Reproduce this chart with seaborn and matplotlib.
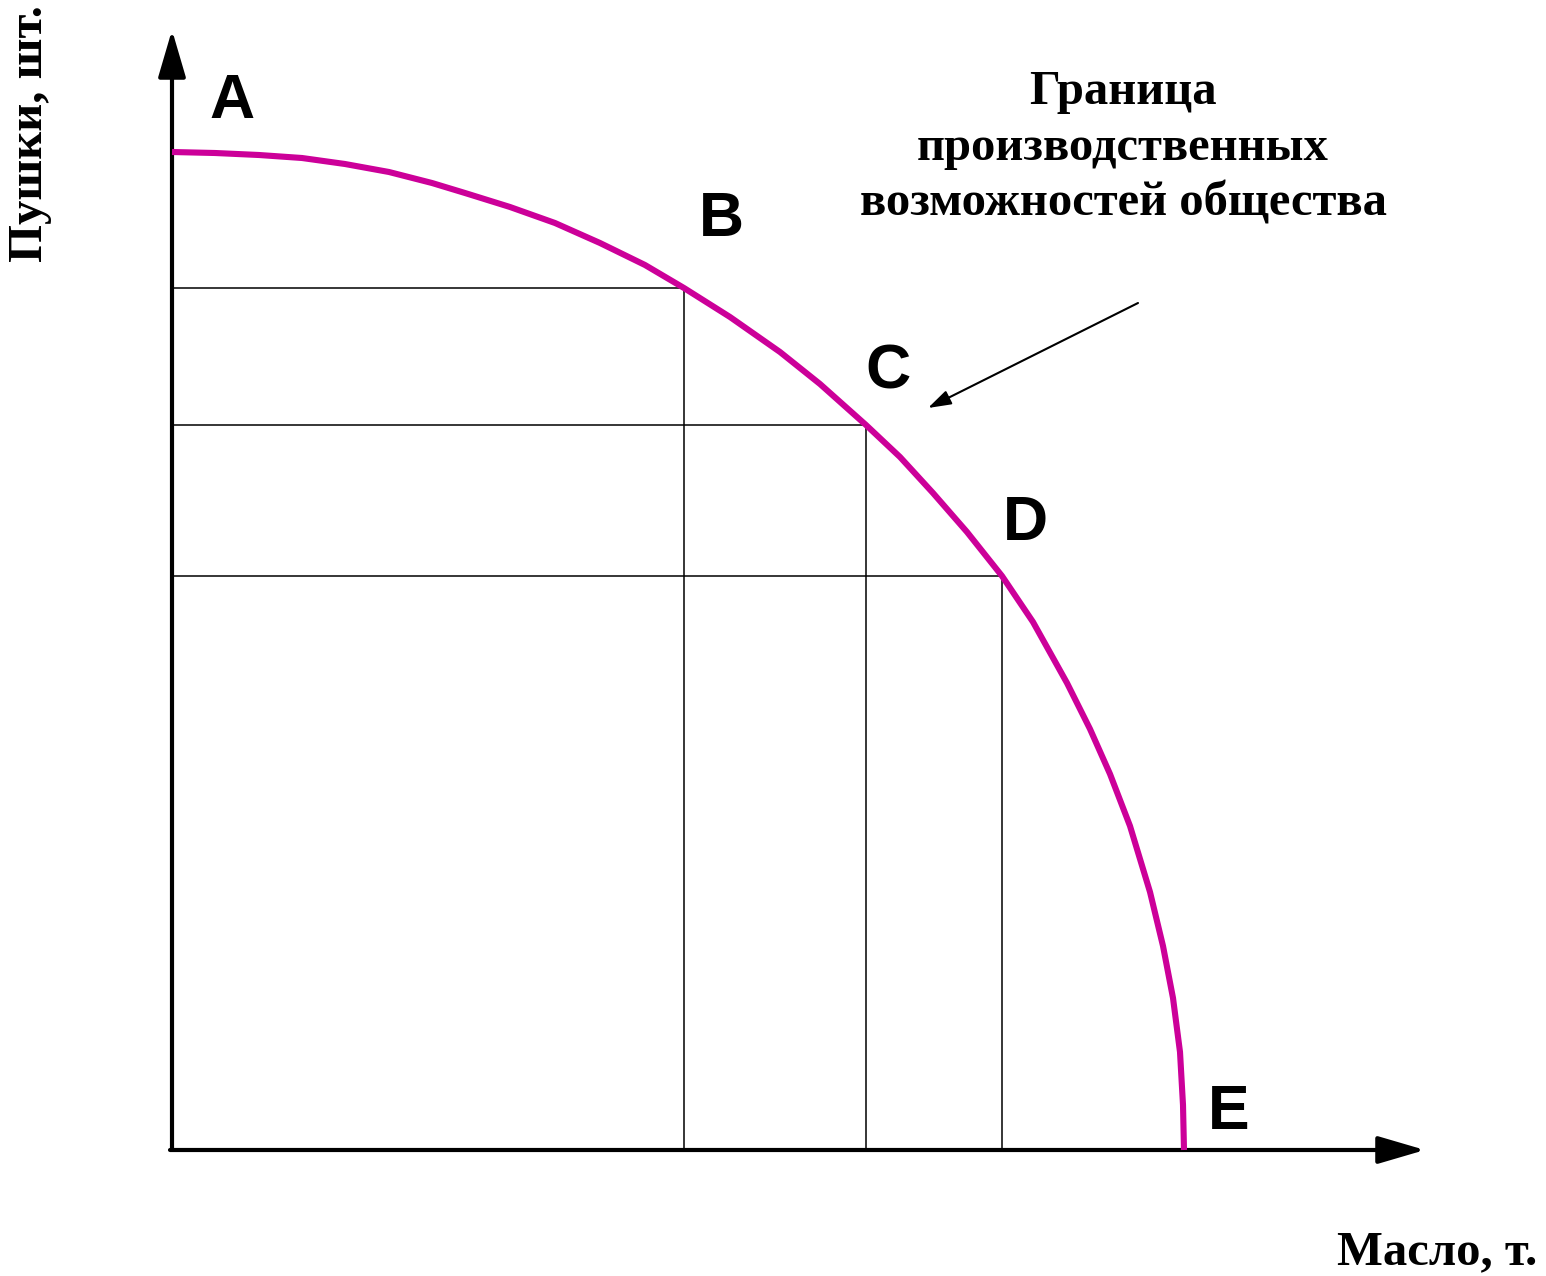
import pandas as pd
import seaborn as sns
import matplotlib.pyplot as plt

# Production possibilities frontier, butter vs guns
butter = [0, 4.3, 8.7, 13.0, 17.3, 21.7, 26.0, 29.3, 33.8, 38.3, 42.8, 47.3,
          51.2, 55.8, 60.8, 64.8, 69.4, 72.8, 76.1, 79.5, 83.0, 86.1, 89.5,
          91.8, 93.8, 95.8, 97.8, 99.1, 100.1, 100.8, 101.1, 101.2]
guns = [99.8, 99.7, 99.5, 99.2, 98.6, 97.8, 96.7, 95.7, 94.3, 92.7, 90.7, 88.5,
        86.2, 83.3, 79.8, 76.6, 72.5, 69.3, 65.7, 61.8, 57.4, 52.8, 46.7,
        42.1, 37.6, 32.4, 25.8, 20.4, 15.2, 9.8, 4.5, 0]

# Labelled points on the frontier
point_names = ['A', 'B', 'C', 'D', 'E']
point_butter = [0, 51.2, 69.4, 83.0, 101.2]
point_guns = [99.8, 86.2, 72.5, 57.4, 0]

# label offsets (points) from each labelled point
label_offsets = [(43, 36), (27, 49), (16, 38), (17, 38), (32, 27)]

frontier_text = 'Граница\nпроизводственных\nвозможностей общества'
x_label = 'Масло, т.'
y_label = 'Пушки, шт.'

curve_color = '#cc0099'
serif = ['Liberation Serif', 'DejaVu Serif']

sns.set_style('white')
plt.rcParams['font.family'] = ['Liberation Sans', 'DejaVu Sans']

df = pd.DataFrame({'butter': butter, 'guns': guns})

fig = plt.figure(figsize=(15.46, 12.76), dpi=100)
ax = fig.add_axes([0, 0, 1, 1])

# guide lines from B, C, D to the axes
ax.hlines(point_guns[1:4], 0, point_butter[1:4], color='black', lw=1.1, zorder=1)
ax.vlines(point_butter[1:4], 0, point_guns[1:4], color='black', lw=1.1, zorder=1)

# the frontier itself
sns.lineplot(data=df, x='butter', y='guns', sort=False, color=curve_color,
             lw=4.4, ax=ax, zorder=3, solid_capstyle='butt',
             solid_joinstyle='round')

# axes with arrow heads
axis_arrow = dict(arrowstyle='-|>,head_length=2.9,head_width=0.85', color='black',
                  lw=3, shrinkA=0, shrinkB=0, mutation_scale=10)
ax.annotate('', xy=(0, 112), xytext=(0, 0), arrowprops=axis_arrow, zorder=2)
ax.annotate('', xy=(125.3, 0), xytext=(-0.2, 0), arrowprops=axis_arrow, zorder=2)

# point letters
for name, bx, gy, off in zip(point_names, point_butter, point_guns, label_offsets):
    ax.annotate(name, xy=(bx, gy), xytext=off, textcoords='offset points',
                ha='center', va='center', fontsize=45, fontweight='bold',
                color='black', family=['Liberation Sans', 'DejaVu Sans'])

# frontier caption with pointer
ax.text(95.1, 100.2, frontier_text, ha='center', va='center', fontsize=35,
        fontweight='bold', family=serif, color='black', linespacing=1.34)
ax.annotate('', xy=(75.6, 74.2), xytext=(96.6, 84.7),
            arrowprops=dict(arrowstyle='-|>,head_length=1.4,head_width=0.45',
                            color='black', lw=1.5, shrinkA=0, shrinkB=0,
                            mutation_scale=10))

# axis titles
ax.text(-14.2, 101.6, y_label, rotation=90, ha='center', va='center',
        fontsize=35, fontweight='bold', family=serif, color='black')
ax.text(136.5, -10.2, x_label, ha='right', va='center', fontsize=35,
        fontweight='bold', family=serif, color='black')

ax.set_xlim(-17.2, 137.4)
ax.set_ylim(-12.6, 115)
ax.axis('off')

plt.savefig('out.png', dpi=100)
print('FINISHED')
